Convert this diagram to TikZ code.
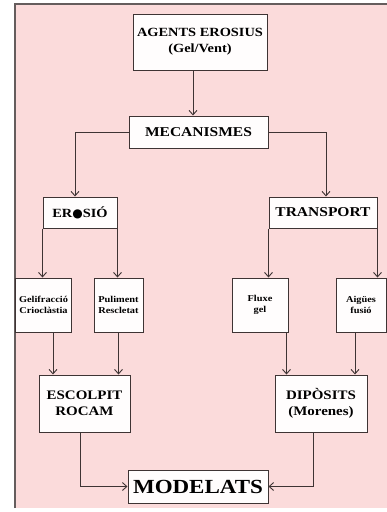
\documentclass[tikz,border=0pt]{standalone}
\usepackage{fontspec}
\setmainfont{Liberation Serif}[FakeStretch=1.15]
\newfontfamily\symfont{DejaVu Sans}
\usetikzlibrary{arrows.meta,positioning}

\definecolor{pinkbg}{RGB}{251,219,219}
\definecolor{inkcol}{RGB}{62,52,52}
\definecolor{boxfill}{RGB}{255,253,253}

\tikzset{
    box/.style={draw=inkcol, line width=1pt, fill=boxfill, align=center,
        inner sep=1pt, font=\bfseries},
    link/.style={draw=inkcol, line width=0.9pt,
        -{Straight Barb[length=4.5pt,width=8pt]}},
}

\begin{document}
\begin{tikzpicture}[x=1pt, y=-1pt, every node/.style={inner sep=2pt}]

    \useasboundingbox (0,0) rectangle (387,512);
    \fill[white] (0,0) rectangle (387,512);
    \fill[pinkbg] (15,3) rectangle (387,508);
    \draw[inkcol!80, line width=2pt] (15,508) -- (15,4) -- (387,4);

    \node[box, minimum width=134pt, minimum height=56pt,
        font=\fontsize{12.5}{16}\selectfont\bfseries] (agents) at (200,42)
        {AGENTS EROSIUS\\(Gel/Vent)};
    \node[box, minimum width=139pt, minimum height=32pt,
        font=\fontsize{13.5}{15}\selectfont\bfseries] (mec) at (198.5,132) {MECANISMES};

    \node[box, minimum width=74pt, minimum height=31pt,
        font=\fontsize{12.5}{15}\selectfont\bfseries] (eros) at (80,212.5)
        {ER{\symfont\fontsize{12}{14}\selectfont ●}SIÓ};
    \node[box, minimum width=108pt, minimum height=31pt,
        font=\fontsize{13.5}{15}\selectfont\bfseries] (trans) at (323,212.5) {TRANSPORT};

    % small boxes
    \node[box, minimum width=56pt, minimum height=54pt,
        font=\fontsize{9}{11}\selectfont\bfseries] (geli) at (43.5,305)
        {Gelifracció\\Crioclàstia};
    \node[box, minimum width=49pt, minimum height=54pt,
        font=\fontsize{9}{11}\selectfont\bfseries] (puli) at (118.5,305)
        {Puliment\\Rescletat};
    \node[box, minimum width=56pt, minimum height=54pt,
        font=\fontsize{9}{11}\selectfont\bfseries] (flux) at (260,305)
        {Fluxe\\gel};
    \node[box, minimum width=50pt, minimum height=54pt,
        font=\fontsize{9}{11}\selectfont\bfseries] (aigu) at (361,305)
        {Aigües\\fusió};

    \node[box, minimum width=91pt, minimum height=57pt,
        font=\fontsize{13}{16}\selectfont\bfseries] (esc) at (84.5,403.5)
        {ESCOLPIT\\ROCAM};
    \node[box, minimum width=92pt, minimum height=57pt,
        font=\fontsize{13}{16}\selectfont\bfseries] (dip) at (321,403.5)
        {DIPÒSITS\\(Morenes)};

    \node[box, minimum width=140pt, minimum height=33pt,
        font=\fontsize{20}{22}\selectfont\bfseries] (mod) at (198,486.5) {MODELATS};

    % Agents to mecanismes
    \draw[link] ([xshift=-7pt]agents.south) -- ([xshift=-7pt]agents.south |- mec.north);

    % Split in two branches
    \draw[link] (mec.west) -| ([xshift=-5pt]eros.north);
    \draw[link] (mec.east) -| ([xshift=3pt]trans.north);

    % from the box corners down
    \draw[link] (eros.south west) -- (eros.south west |- geli.north);
    \draw[link] (eros.south east) -- (eros.south east |- puli.north);
    \draw[link] (trans.south west) -- (trans.south west |- flux.north);
    \draw[link] (trans.south east) -- (trans.south east |- aigu.north);

    \draw[link] ([xshift=9.5pt]geli.south) -- ([xshift=9.5pt]geli.south |- esc.north);
    \draw[link] (puli.south) -- (puli.south |- esc.north);
    \draw[link] ([xshift=26.5pt]flux.south) -- ([xshift=26.5pt]flux.south |- dip.north);
    \draw[link] ([xshift=-6pt]aigu.south) -- ([xshift=-6pt]aigu.south |- dip.north);

    % Modelats
    \draw[link] ([xshift=-4.5pt]esc.south) |- (mod.west);
    \draw[link] ([xshift=-8pt]dip.south) |- (mod.east);

\end{tikzpicture}
\end{document}
